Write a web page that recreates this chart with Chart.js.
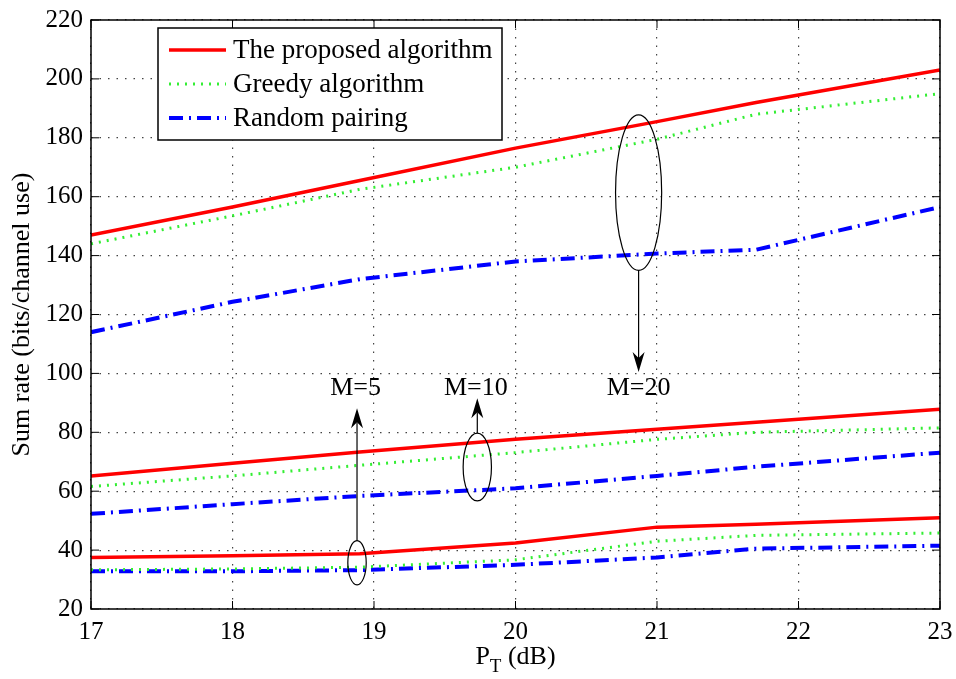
<!DOCTYPE html>
<html>
<head>
<meta charset="utf-8">
<script src="https://cdn.jsdelivr.net/npm/chart.js@4.4.1/dist/chart.umd.min.js"></script>
<style>
  html, body { margin: 0; padding: 0; background: #fff; }
  #wrap { width: 956px; height: 679px; position: relative; }
</style>
</head>
<body>
<div id="wrap"><canvas id="rateChart"></canvas></div>
<script>
// P_T (dB) sample points
var pT = [17, 18, 18.9, 20, 21, 21.7, 23];

// M = 20
var proposedM20 = [147, 156.5, 165.5, 176.5, 185.5, 192, 203];
var greedyM20   = [144, 153.5, 162.5, 170, 179.5, 188, 195];
var randomM20   = [114, 124.3, 132, 138, 140.7, 142, 156.5];
// M = 10
var proposedM10 = [65.2, 69.5, 73.3, 77.6, 81, 83.4, 87.8];
var greedyM10   = [61.6, 65.2, 68.8, 73.1, 77.6, 80, 81.5];
var randomM10   = [52.3, 55.6, 58.4, 61, 65.2, 68.3, 73.1];
// M = 5
var proposedM5  = [37.5, 38.1, 38.8, 42.4, 47.8, 48.8, 51];
var greedyM5    = [33.3, 33.6, 34.2, 36.7, 43, 45, 45.8];
var randomM5    = [32.8, 32.8, 33.2, 35, 37.5, 40.5, 41.5];

var legendLabels = ["The proposed algorithm", "Greedy algorithm", "Random pairing"];
var xTicks = [17, 18, 19, 20, 21, 22, 23];
var yTicks = [20, 40, 60, 80, 100, 120, 140, 160, 180, 200, 220];

var FONT = "'Liberation Serif', 'Times New Roman', serif";

var styles = [
  { borderColor: "#ff0000", borderWidth: 3.5, borderDash: [] },
  { borderColor: "#33ee33", borderWidth: 3, borderDash: [2, 6] },
  { borderColor: "#0000ff", borderWidth: 4, borderDash: [14, 6, 2, 6] }
];

function pts(ys) {
  return pT.map(function (x, i) { return { x: x, y: ys[i] }; });
}

function mkSet(label, ys, s) {
  return {
    label: label,
    data: pts(ys),
    borderColor: s.borderColor,
    borderWidth: s.borderWidth,
    borderDash: s.borderDash,
    pointRadius: 0,
    fill: false,
    tension: 0
  };
}

var datasets = [
  mkSet(legendLabels[0], proposedM20, styles[0]),
  mkSet(legendLabels[1], greedyM20, styles[1]),
  mkSet(legendLabels[2], randomM20, styles[2]),
  mkSet(legendLabels[0], proposedM10, styles[0]),
  mkSet(legendLabels[1], greedyM10, styles[1]),
  mkSet(legendLabels[2], randomM10, styles[2]),
  mkSet(legendLabels[0], proposedM5, styles[0]),
  mkSet(legendLabels[1], greedyM5, styles[1]),
  mkSet(legendLabels[2], randomM5, styles[2])
];

// ellipses / arrows / labels in data units
var notes = [
  { text: "M=5",  cx: 18.88, cy: 35.7,  rx: 0.065, ry: 7.5,  from: 43.2,  to: 88.2,  tx: 18.87, ty: 95 },
  { text: "M=10", cx: 19.73, cy: 68.2,  rx: 0.1,   ry: 11.5, from: 79.7,  to: 91.6,  tx: 19.72, ty: 95 },
  { text: "M=20", cx: 20.87, cy: 161.4, rx: 0.163, ry: 26.4, from: 135,   to: 100.5, tx: 20.87, ty: 95 }
];

function arrowHead(ctx, x, y, dir) {
  // dir = -1 up, +1 down
  ctx.beginPath();
  ctx.moveTo(x, y);
  ctx.lineTo(x - 6, y - dir * 20);
  ctx.lineTo(x, y - dir * 14);
  ctx.lineTo(x + 6, y - dir * 20);
  ctx.closePath();
  ctx.fill();
}

var decorPlugin = {
  id: "decor",
  afterDraw: function (chart) {
    var ctx = chart.ctx;
    var xs = chart.scales.x, ys = chart.scales.y;
    var a = chart.chartArea;
    ctx.save();

    // frame
    ctx.strokeStyle = "#000";
    ctx.lineWidth = 1.5;
    ctx.strokeRect(a.left, a.top, a.right - a.left, a.bottom - a.top);

    // inward ticks
    ctx.lineWidth = 1;
    xTicks.forEach(function (v) {
      var px = xs.getPixelForValue(v);
      ctx.beginPath();
      ctx.moveTo(px, a.bottom); ctx.lineTo(px, a.bottom - 8);
      ctx.moveTo(px, a.top); ctx.lineTo(px, a.top + 8);
      ctx.stroke();
    });
    yTicks.forEach(function (v) {
      var py = ys.getPixelForValue(v);
      ctx.beginPath();
      ctx.moveTo(a.left, py); ctx.lineTo(a.left + 8, py);
      ctx.moveTo(a.right, py); ctx.lineTo(a.right - 8, py);
      ctx.stroke();
    });

    // annotations
    ctx.fillStyle = "#000";
    ctx.font = "26px " + FONT;
    ctx.textAlign = "center";
    ctx.textBaseline = "middle";
    notes.forEach(function (n) {
      var cx = xs.getPixelForValue(n.cx), cy = ys.getPixelForValue(n.cy);
      var rx = Math.abs(xs.getPixelForValue(n.cx + n.rx) - cx);
      var ry = Math.abs(ys.getPixelForValue(n.cy + n.ry) - cy);
      ctx.lineWidth = 1.2;
      ctx.beginPath();
      ctx.ellipse(cx, cy, rx, ry, 0, 0, Math.PI * 2);
      ctx.stroke();

      var y1 = ys.getPixelForValue(n.from), y2 = ys.getPixelForValue(n.to);
      var dir = y2 > y1 ? 1 : -1;
      ctx.beginPath();
      ctx.moveTo(cx, y1);
      ctx.lineTo(cx, y2 - dir * 14);
      ctx.stroke();
      arrowHead(ctx, cx, y2, dir);

      ctx.fillText(n.text, xs.getPixelForValue(n.tx), ys.getPixelForValue(n.ty));
    });

    // legend box
    var lx = 158, ly = 28, lw = 344, lh = 112;
    ctx.fillStyle = "#fff";
    ctx.fillRect(lx, ly, lw, lh);
    ctx.lineWidth = 1.5;
    ctx.strokeStyle = "#000";
    ctx.strokeRect(lx, ly, lw, lh);
    ctx.textAlign = "left";
    ctx.font = "27px " + FONT;
    for (var i = 0; i < 3; i++) {
      var rowY = ly + 22 + i * 34;
      var s = styles[i];
      ctx.save();
      ctx.strokeStyle = s.borderColor;
      ctx.lineWidth = s.borderWidth;
      ctx.setLineDash(s.borderDash);
      ctx.beginPath();
      ctx.moveTo(lx + 11, rowY);
      ctx.lineTo(lx + 68, rowY);
      ctx.stroke();
      ctx.restore();
      ctx.fillStyle = "#000";
      ctx.fillText(legendLabels[i], lx + 75, rowY + 1);
    }

    // axis titles
    ctx.font = "26px " + FONT;
    ctx.textAlign = "center";
    ctx.save();
    ctx.translate(22, (a.top + a.bottom) / 2);
    ctx.rotate(-Math.PI / 2);
    ctx.fillText("Sum rate (bits/channel use)", 0, 0);
    ctx.restore();

    var midX = (a.left + a.right) / 2;
    ctx.textAlign = "left";
    ctx.font = "26px " + FONT;
    var wP = ctx.measureText("P").width;
    ctx.font = "19px " + FONT;
    var wT = ctx.measureText("T").width;
    ctx.font = "26px " + FONT;
    var wD = ctx.measureText(" (dB)").width;
    var sx = midX - (wP + wT + wD) / 2;
    ctx.fillText("P", sx, 657);
    ctx.font = "19px " + FONT;
    ctx.fillText("T", sx + wP, 667);
    ctx.font = "26px " + FONT;
    ctx.fillText(" (dB)", sx + wP + wT, 657);

    ctx.restore();
  }
};

var ctx = document.getElementById("rateChart");

var chart = new Chart(ctx, {
  type: "line",
  data: { datasets: datasets },
  options: {
    responsive: true,
    maintainAspectRatio: false,
    animation: false,
    layout: { padding: { top: 20, right: 16, left: 0, bottom: 0 } },
    plugins: {
      legend: { display: false },
      tooltip: { enabled: false }
    },
    scales: {
      x: {
        type: "linear",
        min: 17,
        max: 23,
        afterBuildTicks: function (axis) {
          axis.ticks = xTicks.map(function (v) { return { value: v }; });
        },
        afterFit: function (axis) {
          axis.height = 70;
          axis.paddingLeft = 0;
          axis.paddingRight = 0;
        },
        grid: {
          color: "#444",
          lineWidth: 1.2,
          drawTicks: false,
          tickLength: 0
        },
        border: { display: false, dash: [1.5, 7] },
        ticks: {
          color: "#000",
          font: { family: FONT, size: 25 },
          padding: 8,
          maxRotation: 0
        }
      },
      y: {
        min: 20,
        max: 220,
        afterBuildTicks: function (axis) {
          axis.ticks = yTicks.map(function (v) { return { value: v }; });
        },
        afterFit: function (axis) {
          axis.width = 91;
          axis.paddingTop = 0;
          axis.paddingBottom = 0;
        },
        grid: {
          color: "#444",
          lineWidth: 1.2,
          drawTicks: false,
          tickLength: 0
        },
        border: { display: false, dash: [1.5, 7] },
        ticks: {
          color: "#000",
          font: { family: FONT, size: 25 },
          padding: 8
        }
      }
    }
  },
  plugins: [decorPlugin]
});
</script>
</body>
</html>
